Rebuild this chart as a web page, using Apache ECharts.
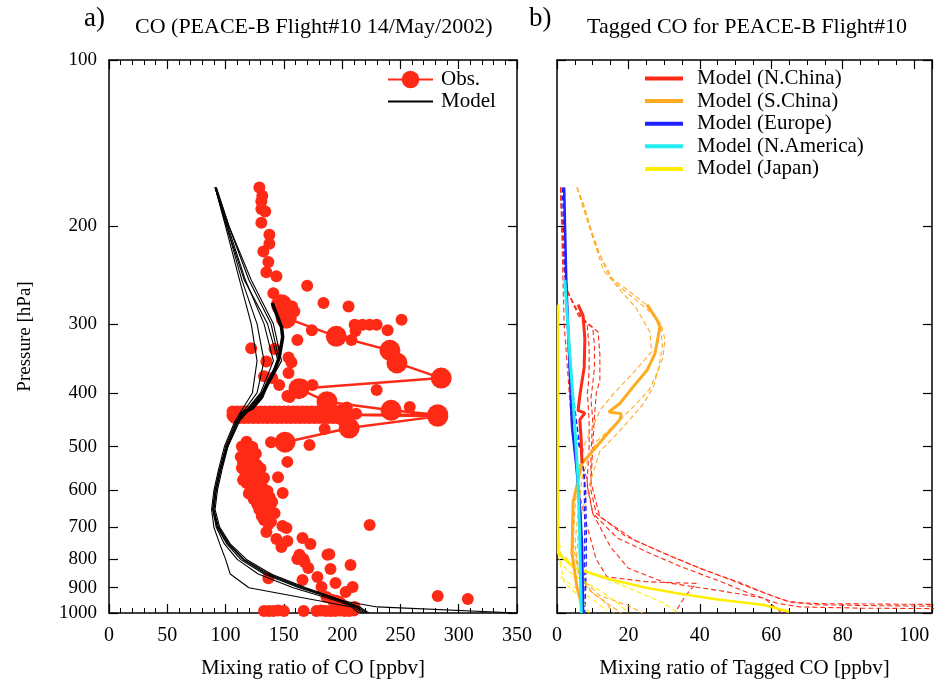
<!DOCTYPE html>
<html><head><meta charset="utf-8">
<script src="https://cdn.jsdelivr.net/npm/echarts@6/dist/echarts.min.js"></script>
<style>html,body{margin:0;padding:0;background:#fff}#c{width:935px;height:686px}</style>
</head><body><div id="c"></div>
<script>
// ---------------- DATA ----------------
const pressureTicks = [100,200,300,400,500,600,700,800,900,1000];

// Observations (ppbv, hPa)
const obsDots = [
 [129,170],[131.5,176],[130.7,180],[130.7,186],[134,188],[130.7,197],[137.6,207],[137.6,215],[132.4,222],[136.7,232],
 [135,242],[143.6,246],[170,256],[141,264],[157,279],[159,285],[184,275],[205.5,279],[251,295],[210.7,301],
 [217.5,301],[223.6,301],[229.6,301],[211.5,309],[239,308],[161.6,321],[122,332],[142,333],[154,345],[156.5,352],
 [135,351],[154,368],[133,373],[140,376],[146,387],[166,387],[153,405],[174.5,387],[229.6,395],[258,424],
 [174,308],[208,321],[155,407],[163,398],[185,465],[139,491],[172,497],[153,533],[145,568],[149,607],[204,425],[212,436],
 [106,432],[110,432],[114,432],[118,432],[122,432],[126,432],[130,432],[134,432],[138,432],[142,432],[146,432],[150,432],
 [154,432],[158,432],[162,432],[166,432],[170,432],[174,432],[178,432],[182,432],[186,432],[190,432],[194,432],[198,432],
 [108,444],[112,444],[116,444],[120,444],[124,444],[128,444],[132,444],[136,444],[140,444],[144,444],[148,444],[152,444],
 [156,444],[160,444],[164,444],[168,444],[172,444],[176,444],[180,444],[184,444],[188,444],[192,444],[196,444],[200,444],
 [118,490],[114,500],[120,500],[123,501],[116,510],[121,512],[126,515],[113,522],[118,525],[124,528],[115,535],[120,538],
 [127,540],[114,547],[119,550],[125,552],[130,548],[117,560],[122,563],[128,565],[126,568],[133,570],[115,575],[120,578],
 [118,582],[125,585],[131,588],[122,595],[128,598],[132,599],[136,602],[120,608],[126,612],[133,615],[138,618],[124,622],
 [130,625],[135,625],[140,630],[127,635],[132,640],[138,643],[129,650],[138,651],[134,658],[140,662],[131,668],[136,672],
 [133,679],[139,684],[137,690],[128,606],[142,660],
 [148.8,696],[152.2,702],[135,714],[143.6,735],[147.9,760],[153,741],[166,732],[172.8,750],[163.4,785],[166.8,799],
 [171,829],[187.4,785],[190,833],[207.2,819],[178.8,861],[166,872],[194.3,883],[182.3,897],[209,897],[203,916],
 [186.6,936],[191.7,947],[197.8,955],[223.6,693],[282,932],[307.8,943],[136.7,865],[161.6,799],[167.7,809],[189,783],
 [210.7,975],[200,965],[195,950],
 [133,992],[137,992],[141,992],[145,990],[150,992],[167,992],[178,992],[182,990],[186,992],[190,992],[194,992],[198,990],
 [202,992],[206,992],[210,990]
];
const obsBig = [[108,438],[189,433]];
const obsFlight = [[148,277],[152,293],[195,316],[241,335],[247,353],[285,376],[163,393],[187,415],[242,430],[282,438],
 [200,438],[282,441],[206,463],[151,491]];

// Model (black) profiles: values at modelLevels
const modelLevels = [170,200,250,300,350,400,450,500,550,600,650,700,750,800,850,900,950,975,1000];
const modelProfile1 = [91,100,112,122,127,123,108,99,94,90,88,90,95,100,104,120,180,208,214];
const modelProfile2 = [91,101,114,127,133,127,109,100,95,91,89,92,99,110,128,158,195,210,217];
const modelProfile3 = [91,102,117,133,141,130,110,101,96,92,90,93,101,113,133,163,198,212,219];
const modelProfile4 = [92,103,120,139,146,132,111,102,96,92,90,94,103,116,137,167,200,230,350];
const modelProfile5 = [91,101,116,136,145,131,110,101,95,91,89,93,102,115,135,165,199,213,221];
const modelProfile6 = [92,103,122,141,148,133,112,102,97,93,91,95,104,118,139,169,201,215,223];
const modelFlight = [[140,275],[148,304],[149,317],[146,345],[142,364],[136,384],[131,407],[123,426],[114,435],[112,443]];

// Tagged CO (ppbv, hPa)
const nchinaFlight = [[5.9,277],[7.3,290],[7.8,320],[7.6,360],[6.5,400],[5.9,430],[7.8,435],[6.4,447],[6.8,490],[7,536]];
const schinaFlight = [[25.2,277],[28,295],[28.8,304],[28.3,317],[27.4,340],[25.2,364],[21.3,390],[17.6,418],[14.5,433],
 [18,436],[17.6,447],[14,475],[10.5,505],[7,536],[4.5,631],[4.2,780],[5.6,899],[7.3,990]];
const europeFlight = [[2,170],[2.6,250],[3.3,330],[4.2,460],[5.5,550],[6.5,650],[7,750],[7.2,900],[7.3,1000]];
const namericaFlight = [[2.2,250],[3,300],[4,370],[5,460],[5.8,560],[6.3,700],[6.8,1000]];
const japanFlight = [[0.3,277],[0.3,780],[5,830],[15,870],[25,900],[34,922],[45,945],[58,967],[65,995]];

const nchinaProf1 = [[1,170],[1.8,230],[2.8,262],[5,280],[8.4,299],[9,330],[9,360],[8.8,385],[8.5,400],[9,447],[9,500],[8.4,586],
 [10,660],[16.8,731],[26,780],[35,826],[44.8,872],[54,922],[61.6,960],[68,975],[85,980],[106,982]];
const nchinaProf2 = [[1,170],[2,240],[3,262],[6,290],[10,304],[10.5,330],[10.5,360],[10,385],[9.5,410],[10,447],[9.5,520],[9.5,600],
 [11,660],[19,725],[29,775],[38,820],[48,868],[57,915],[64,950],[72,966],[90,970],[106,972]];
const nchinaProf3 = [[1,170],[2,240],[3,262],[7,295],[11.5,310],[12,340],[12,379],[11,400],[10.5,440],[10,500],[9.5,580],[12,670],
 [22,740],[32,790],[41,835],[51,880],[60,930],[66,958],[75,962],[106,965]];
const nchinaProf4 = [[1,170],[2,300],[4,450],[6,600],[8.5,700],[11,800],[14,860],[25,878],[39,884],[36,930],[34,975],[33,1000]];
const nchinaProf5 = [[8,560],[10,660],[15,760],[20,830],[30,880],[45,910],[58,940],[63,1000]];
const schinaProf1 = [[5.6,170],[7.3,181],[11,218],[14.8,247],[19.6,260],[25,277],[29.4,304],[30.2,320],[29.7,345],[28,368],[26,393],
 [22,420],[18,445],[14,470],[11,490],[9,520],[7,570],[6,650],[5,750],[6,850],[9,910],[13,950],[16,1000]];
const schinaProf2 = [[5.6,170],[8,190],[12,225],[16,252],[21,268],[26,285],[29,300],[29.5,330],[28.5,360],[27,390],[24,420],[20,450],
 [16,480],[12,510],[10,560],[8,620],[6,700],[5.5,800],[8,880],[12,930],[20,970],[24,1000]];
const schinaProf3 = [[5.6,170],[9,200],[13,240],[18,262],[22,280],[26,310],[26.5,337],[21,370],[16,400],[12,430],[10,461],[8,490],
 [6,550],[5,650],[4.5,750],[6,850],[10,920],[14,960],[18,1000]];
const europeProf1 = [[1.5,170],[2.5,270],[3.5,370],[5,470],[7,520],[8,600],[8.2,700],[8.2,800],[8,900],[7.8,1000]];
const europeProf2 = [[1.8,170],[2.8,270],[4,380],[6,480],[7.6,560],[7.8,700],[7.6,850],[7.4,1000]];
const japanProf1 = [[0.3,700],[1,780],[4,810],[10,850],[18,890],[25,930],[30,960],[34,1000]];
const japanProf2 = [[0.5,800],[3,840],[8,880],[13,920],[17,960],[20,1000]];
const japanProf3 = [[1,860],[5,900],[10,945],[14,990]];
const japanProf4 = [[0.3,600],[0.6,800],[2,880],[6,930],[8,970],[9,1000]];

// ---------------- CHART ----------------
const FONT = 'Liberation Serif';
const lg = a => a.map(d => [d[0], Math.log10(d[1])]);
const prof = vals => vals.map((v,i) => [v, Math.log10(modelLevels[i])]);
const tickVals = pressureTicks.map(Math.log10);

const RED='#ff2a16', ORANGE='#ffaa22', BLUE='#2020ff', CYAN='#22eef0', YELLOW='#ffee00';

function xAx(grid, pos, max, interval, minorSplit, showLabel, name) {
  return {
    type:'value', gridIndex:grid, position:pos, min:0, max:max, interval:interval,
    axisLine:{show:true, onZero:false, lineStyle:{color:'#000', width:1.5}},
    axisTick:{show:true, inside:true, length:9, lineStyle:{color:'#000', width:1.2}},
    minorTick:{show:true, splitNumber:minorSplit, length:5, lineStyle:{color:'#000', width:1}},
    axisLabel:{show:showLabel, margin:13, color:'#000', fontFamily:FONT, fontSize:20,
      formatter: v => (v % interval === 0 ? String(v) : '')},
    splitLine:{show:false},
    name: name || '', nameLocation:'middle', nameGap:45,
    nameTextStyle:{color:'#000', fontFamily:FONT, fontSize:21}
  };
}
function yAx(grid, pos, showLabel, name) {
  return {
    type:'value', gridIndex:grid, position:pos, min:2, max:3, inverse:true,
    axisLine:{show:true, onZero:false, lineStyle:{color:'#000', width:1.5}},
    axisTick:{show:true, inside:true, length:9, customValues:tickVals, lineStyle:{color:'#000', width:1.2}},
    axisLabel:{show:showLabel, customValues:tickVals, margin:12, color:'#000', fontFamily:FONT, fontSize:19,
      formatter: v => String(Math.round(Math.pow(10, v)))},
    splitLine:{show:false},
    name: name || '', nameLocation:'middle', nameGap:74, nameRotate:90,
    nameTextStyle:{color:'#000', fontFamily:FONT, fontSize:19}
  };
}
function ln(name, data, color, width, dashed, xi, yi, z) {
  return {type:'line', name, data, xAxisIndex:xi, yAxisIndex:yi, symbol:'none', showSymbol:false,
    lineStyle:{color, width, type: dashed ? [5,3] : 'solid'}, itemStyle:{color}, z: z || 2,
    animation:false, silent:true, clip:true};
}

const series = [];
// Left panel
series.push({type:'scatter', name:'obsDots', data:lg(obsDots), xAxisIndex:0, yAxisIndex:0, symbolSize:12,
  itemStyle:{color:RED, opacity:1}, animation:false, silent:true, z:2});
series.push({type:'scatter', name:'obsBig', data:lg(obsBig), xAxisIndex:0, yAxisIndex:0, symbolSize:17,
  itemStyle:{color:RED, opacity:1}, animation:false, silent:true, z:2});
series.push({type:'line', name:'Obs.', data:lg(obsFlight), xAxisIndex:0, yAxisIndex:0, symbol:'circle', symbolSize:21,
  showSymbol:true, lineStyle:{color:RED, width:2.5}, itemStyle:{color:RED}, animation:false, silent:true, z:3});
[modelProfile1,modelProfile2,modelProfile3,modelProfile4,modelProfile5,modelProfile6].forEach(p =>
  series.push(ln('Model', prof(p), '#000', 1.1, false, 0, 0, 4)));
series.push(ln('Model', lg(modelFlight), '#000', 3.5, false, 0, 0, 4));

// Right panel - dashed profiles
[nchinaProf1,nchinaProf2,nchinaProf3,nchinaProf4,nchinaProf5].forEach(p => series.push(ln('nc', lg(p), RED, 1.1, true, 2, 2, 2)));
[schinaProf1,schinaProf2,schinaProf3].forEach(p => series.push(ln('sc', lg(p), ORANGE, 1.1, true, 2, 2, 2)));
[europeProf1,europeProf2].forEach(p => series.push(ln('eu', lg(p), BLUE, 1.4, true, 2, 2, 2)));
[japanProf1,japanProf2,japanProf3,japanProf4].forEach(p => series.push(ln('jp', lg(p), YELLOW, 1.1, true, 2, 2, 2)));
// solid flight
series.push(ln('Model (Japan)', lg(japanFlight), YELLOW, 2.5, false, 2, 2, 3));
series.push(ln('Model (S.China)', lg(schinaFlight), ORANGE, 3, false, 2, 2, 3));
series.push(ln('Model (N.China)', lg(nchinaFlight), RED, 3, false, 2, 2, 3));
series.push(ln('Model (Europe)', lg(europeFlight), BLUE, 2.5, false, 2, 2, 3));
series.push(ln('Model (N.America)', lg(namericaFlight), CYAN, 3, false, 2, 2, 3));

const lineIconL = 'path://M0,0L45,0L45,2L0,2Z';
const lineIconR = 'path://M0,0L38,0L38,4L0,4Z';
const option = {
  backgroundColor:'#fff',
  animation:false,
  title:[
    {text:'a)', left:84, top:5, padding:0, textStyle:{fontFamily:FONT, fontSize:27, fontWeight:'normal', color:'#000'}},
    {text:'CO (PEACE-B Flight#10 14/May/2002)', left:135, top:16, padding:0, textStyle:{fontFamily:FONT, fontSize:22, fontWeight:'normal', color:'#000'}},
    {text:'b)', left:529, top:5, padding:0, textStyle:{fontFamily:FONT, fontSize:27, fontWeight:'normal', color:'#000'}},
    {text:'Tagged CO for PEACE-B Flight#10', left:587, top:16, padding:0, textStyle:{fontFamily:FONT, fontSize:22, fontWeight:'normal', color:'#000'}}
  ],
  grid:[
    {left:109, top:60, width:408, height:553},
    {left:557, top:60, width:375, height:553}
  ],
  xAxis:[
    xAx(0,'bottom',350,50,5,true,'Mixing ratio of CO [ppbv]'),
    xAx(0,'top',350,50,5,false),
    xAx(1,'bottom',105,20,4,true,'Mixing ratio of Tagged CO [ppbv]'),
    xAx(1,'top',105,20,4,false)
  ],
  yAxis:[
    yAx(0,'left',true,'Pressure [hPa]'),
    yAx(0,'right',false),
    yAx(1,'left',false),
    yAx(1,'right',false)
  ],
  legend:[
    {data:[{name:'Obs.'},{name:'Model', icon:lineIconL}], left:387, top:69, padding:0, orient:'vertical',
      itemWidth:45, itemHeight:22, itemGap:1,
      textStyle:{fontFamily:FONT, fontSize:21, color:'#000', padding:[0,0,0,3]}, selectedMode:false},
    {data:['Model (N.China)','Model (S.China)','Model (Europe)','Model (N.America)','Model (Japan)'].map(n => ({name:n, icon:lineIconR})),
      left:645, top:68, padding:0, orient:'vertical', itemWidth:38, itemHeight:14, itemGap:1.6,
      textStyle:{fontFamily:FONT, fontSize:21, color:'#000', padding:[0,0,0,9]}, selectedMode:false}
  ],
  series
};
const chart = echarts.init(document.getElementById('c'), null, {renderer:'canvas'});
chart.setOption(option);
</script></body></html>
